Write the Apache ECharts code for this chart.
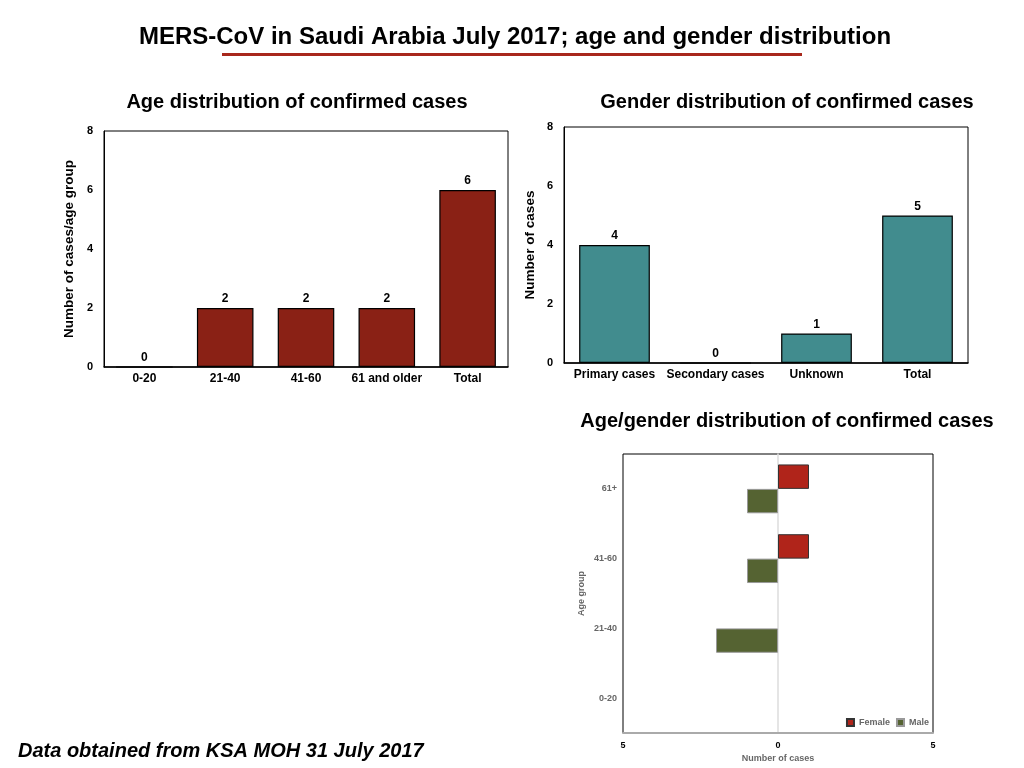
<!DOCTYPE html>
<html>
<head>
<meta charset="utf-8">
<script src="https://cdn.jsdelivr.net/npm/echarts@6/dist/echarts.min.js"></script>
<style>
  html, body { margin: 0; padding: 0; background: #fff; }
  #main { width: 1024px; height: 768px; }
</style>
</head>
<body>
<div id="main"></div>
<script>
// age chart
var ageGroups = ['0-20', '21-40', '41-60', '61 and older', 'Total'];
var ageCases = [0, 2, 2, 2, 6];
// gender chart
var caseTypes = ['Primary cases', 'Secondary cases', 'Unknown', 'Total'];
var caseCounts = [4, 0, 1, 5];
// age/gender pyramid (male drawn to the left)
var pyramidGroups = ['0-20', '21-40', '41-60', '61+'];
var femaleCases = [0, 0, 1, 1];
var maleCases = [0, -2, -1, -1];

var font = 'Liberation Sans, Arial, sans-serif';
var chart = echarts.init(document.getElementById('main'));

function boldLabel(size, color) {
    return { fontFamily: font, fontWeight: 'bold', fontSize: size, color: color || '#000' };
}
// empty bars should not leave a hairline on the zero axis
function dropZeros(arr) {
    return arr.map(function (v) { return v === 0 ? null : v; });
}

var option = {
    backgroundColor: '#fff',
    animation: false,
    textStyle: { fontFamily: font },
    title: [
        { text: 'MERS-CoV in Saudi Arabia July 2017; age and gender distribution', left: 510, textAlign: 'center', top: 20,
          textStyle: { fontFamily: font, fontWeight: 'bold', fontSize: 24, color: '#000' } },
        { text: 'Age distribution of confirmed cases', left: 292, textAlign: 'center', top: 87,
          textStyle: { fontFamily: font, fontWeight: 'bold', fontSize: 20, color: '#000' } },
        { text: 'Gender distribution of confirmed cases', left: 782, textAlign: 'center', top: 87,
          textStyle: { fontFamily: font, fontWeight: 'bold', fontSize: 20, color: '#000' } },
        { text: 'Age/gender distribution of confirmed cases', left: 782, textAlign: 'center', top: 406,
          textStyle: { fontFamily: font, fontWeight: 'bold', fontSize: 20, color: '#000' } },
        { text: 'Data obtained from KSA MOH 31 July 2017', left: 13, top: 736,
          textStyle: { fontFamily: font, fontWeight: 'bold', fontStyle: 'italic', fontSize: 20, color: '#000' } }
    ],
    graphic: [
        { type: 'rect', shape: { x: 222, y: 53, width: 580, height: 3 }, style: { fill: '#a8281c' } }
    ],
    legend: {
        data: ['Female', 'Male'],
        right: 90, top: 713,
        itemWidth: 7, itemHeight: 7, itemGap: 6,
        icon: 'rect',
        textStyle: boldLabel(9, '#666')
    },
    grid: [
        { left: 104, top: 131, width: 404, height: 236, show: true, borderColor: '#000', borderWidth: 1 },
        { left: 564, top: 127, width: 404, height: 236, show: true, borderColor: '#000', borderWidth: 1 },
        { left: 623, top: 454, width: 310, height: 279, show: true, borderColor: '#000', borderWidth: 1 }
    ],
    xAxis: [
        { gridIndex: 0, type: 'category', data: ageGroups,
          axisLine: { lineStyle: { color: '#000', width: 1.5 } }, axisTick: { show: false },
          axisLabel: Object.assign(boldLabel(12), { margin: 6, interval: 0 }) },
        { gridIndex: 1, type: 'category', data: caseTypes,
          axisLine: { lineStyle: { color: '#000', width: 1.5 } }, axisTick: { show: false },
          axisLabel: Object.assign(boldLabel(12), { margin: 6, interval: 0 }) },
        { gridIndex: 2, type: 'value', min: -5, max: 5, interval: 5,
          name: 'Number of cases', nameLocation: 'middle', nameGap: 21,
          nameTextStyle: boldLabel(9, '#666'),
          axisLine: { show: true, onZero: false, lineStyle: { color: '#aaa', width: 2 } },
          axisTick: { show: false }, splitLine: { show: false },
          axisLabel: Object.assign(boldLabel(9), { margin: 8, formatter: function (v) { return Math.abs(v); } }) }
    ],
    yAxis: [
        { gridIndex: 0, type: 'value', min: 0, max: 8, interval: 2,
          name: 'Number of cases/age group', nameLocation: 'middle', nameGap: 28,
          nameTextStyle: boldLabel(13.5),
          axisLine: { show: true, lineStyle: { color: '#000' } }, axisTick: { show: false },
          splitLine: { show: false }, axisLabel: Object.assign(boldLabel(11), { margin: 11 }) },
        { gridIndex: 1, type: 'value', min: 0, max: 8, interval: 2,
          name: 'Number of cases', nameLocation: 'middle', nameGap: 27,
          nameTextStyle: boldLabel(13.5),
          axisLine: { show: true, lineStyle: { color: '#000' } }, axisTick: { show: false },
          splitLine: { show: false }, axisLabel: Object.assign(boldLabel(11), { margin: 11 }) },
        { gridIndex: 2, type: 'category', data: pyramidGroups,
          name: 'Age group', nameLocation: 'middle', nameGap: 37,
          nameTextStyle: boldLabel(9, '#666'),
          axisLine: { show: true, onZero: true, lineStyle: { color: '#ddd', width: 1.5 } },
          axisTick: { show: false },
          axisLabel: Object.assign(boldLabel(9, '#666'), { margin: 6 }) }
    ],
    series: [
        { type: 'bar', xAxisIndex: 0, yAxisIndex: 0, data: ageCases, barWidth: '70%',
          itemStyle: { color: '#8a2115', borderColor: '#000', borderWidth: 1.2 },
          label: { show: true, position: 'top', distance: 3, fontFamily: font, fontWeight: 'bold', fontSize: 12, color: '#000' } },
        { type: 'bar', xAxisIndex: 1, yAxisIndex: 1, data: caseCounts, barWidth: '70%',
          itemStyle: { color: '#418c8e', borderColor: '#000', borderWidth: 1.2 },
          label: { show: true, position: 'top', distance: 3, fontFamily: font, fontWeight: 'bold', fontSize: 12, color: '#000' } },
        { name: 'Female', type: 'bar', xAxisIndex: 2, yAxisIndex: 2, data: dropZeros(femaleCases),
          barWidth: '35%', barGap: '0%',
          itemStyle: { color: '#b0241a', borderColor: '#333', borderWidth: 1 } },
        { name: 'Male', type: 'bar', xAxisIndex: 2, yAxisIndex: 2, data: dropZeros(maleCases),
          barWidth: '35%', barGap: '0%',
          itemStyle: { color: '#556332', borderColor: '#999', borderWidth: 1 } }
    ]
};

option && chart.setOption(option);
</script>
</body>
</html>
